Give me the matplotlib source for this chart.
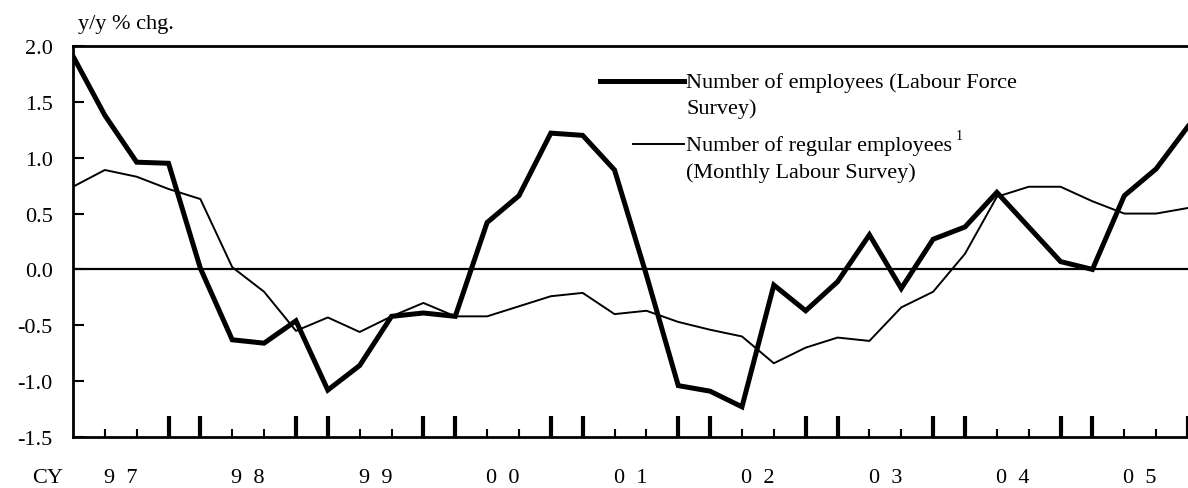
import matplotlib.pyplot as plt
import numpy as np
from matplotlib.transforms import blended_transform_factory

plt.rcParams["font.family"] = ["Liberation Serif", "DejaVu Serif"]

# Quarterly y/y % change, 1997 Q1 onward
lfs_employees = [1.91, 1.38, 0.96, 0.95, 0.01, -0.63, -0.66, -0.46,
                 -1.08, -0.86, -0.42, -0.39, -0.42, 0.42, 0.66, 1.22,
                 1.20, 0.89, -0.05, -1.04, -1.09, -1.23, -0.14, -0.37,
                 -0.11, 0.31, -0.17, 0.27, 0.38, 0.69, 0.38, 0.07,
                 0.00, 0.66, 0.90, 1.28]
mls_regular = [0.74, 0.89, 0.83, 0.72, 0.63, 0.02, -0.20, -0.55,
               -0.43, -0.56, -0.42, -0.30, -0.42, -0.42, -0.33, -0.24,
               -0.21, -0.40, -0.37, -0.47, -0.54, -0.60, -0.84, -0.70,
               -0.61, -0.64, -0.34, -0.20, 0.14, 0.65, 0.74, 0.74,
               0.61, 0.50, 0.50, 0.55]
year_labels = ["9  7", "9  8", "9  9", "0  0", "0  1", "0  2", "0  3", "0  4", "0  5"]
y_ticks = [-1.5, -1.0, -0.5, 0.0, 0.5, 1.0, 1.5, 2.0]

FS = 16

fig = plt.figure(figsize=(11.88, 4.89), dpi=100)
ax = fig.add_axes([0.0614, 0.1043, 0.9386, 0.7996])

x = np.arange(len(lfs_employees))
ax.plot(x, lfs_employees, color="black", lw=3.6, solid_joinstyle="miter", zorder=3)
ax.plot(x, mls_regular, color="black", lw=1.4, zorder=2)
ax.axhline(0, color="black", lw=1.6, zorder=1)

ax.set_xlim(0, 34.75)
ax.set_ylim(-1.5, 2.0)

for side in ["left", "top", "bottom"]:
    ax.spines[side].set_linewidth(2)
ax.spines["right"].set_visible(False)

ax.set_yticks(y_ticks)
ax.set_yticklabels([f"{v:.1f}" for v in y_ticks])
ax.tick_params(axis="y", direction="in", length=8, width=1.5, labelsize=FS, pad=14.5)

# taller ticks either side of each year boundary, short ticks elsewhere
n_q = len(lfs_employees)
major = [i for i in range(1, n_q) if i % 4 in (0, 3)]
minor = [i for i in range(1, n_q) if i % 4 in (1, 2)]
ax.set_xticks(major)
ax.set_xticks(minor, minor=True)
ax.tick_params(axis="x", which="major", direction="in", length=15, width=3,
               labelbottom=False)
ax.tick_params(axis="x", which="minor", direction="in", length=6, width=1.5)

trans = blended_transform_factory(ax.transData, ax.transAxes)
for k, lab in enumerate(year_labels):
    ax.text(4 * k + 1.5, -0.103, lab, transform=trans, ha="center", va="center",
            fontsize=FS)
ax.text(-0.81, -0.103, "CY", transform=trans, ha="center", va="center",
        fontsize=FS, clip_on=False)

fig.text(0.066, 0.949, "y/y % chg.", ha="left", va="center", fontsize=FS)

# legend drawn by hand so the two handles can differ in length
leg_kw = dict(transform=fig.transFigure, color="black", clip_on=False)
ax.add_line(plt.Line2D([600 / 1188, 684 / 1188], [1 - 82 / 489, 1 - 82 / 489],
                       lw=3.6, **leg_kw))
ax.add_line(plt.Line2D([633 / 1188, 684 / 1188], [1 - 145 / 489, 1 - 145 / 489],
                       lw=1.4, **leg_kw))
fig.text(686 / 1188, 1 - 83 / 489, "Number of employees (Labour Force",
         ha="left", va="center", fontsize=FS)
fig.text(686 / 1188, 1 - 109 / 489, "Survey)", ha="left", va="center", fontsize=FS)
t = fig.text(686 / 1188, 1 - 146 / 489, "Number of regular employees",
             ha="left", va="center", fontsize=FS)
ax.annotate("1", xy=(1, 1), xycoords=t, xytext=(3, 4), textcoords="offset points",
            ha="left", va="top", fontsize=10)
fig.text(686 / 1188, 1 - 173 / 489, "(Monthly Labour Survey)",
         ha="left", va="center", fontsize=FS)

fig.savefig("out.png", dpi=100)
